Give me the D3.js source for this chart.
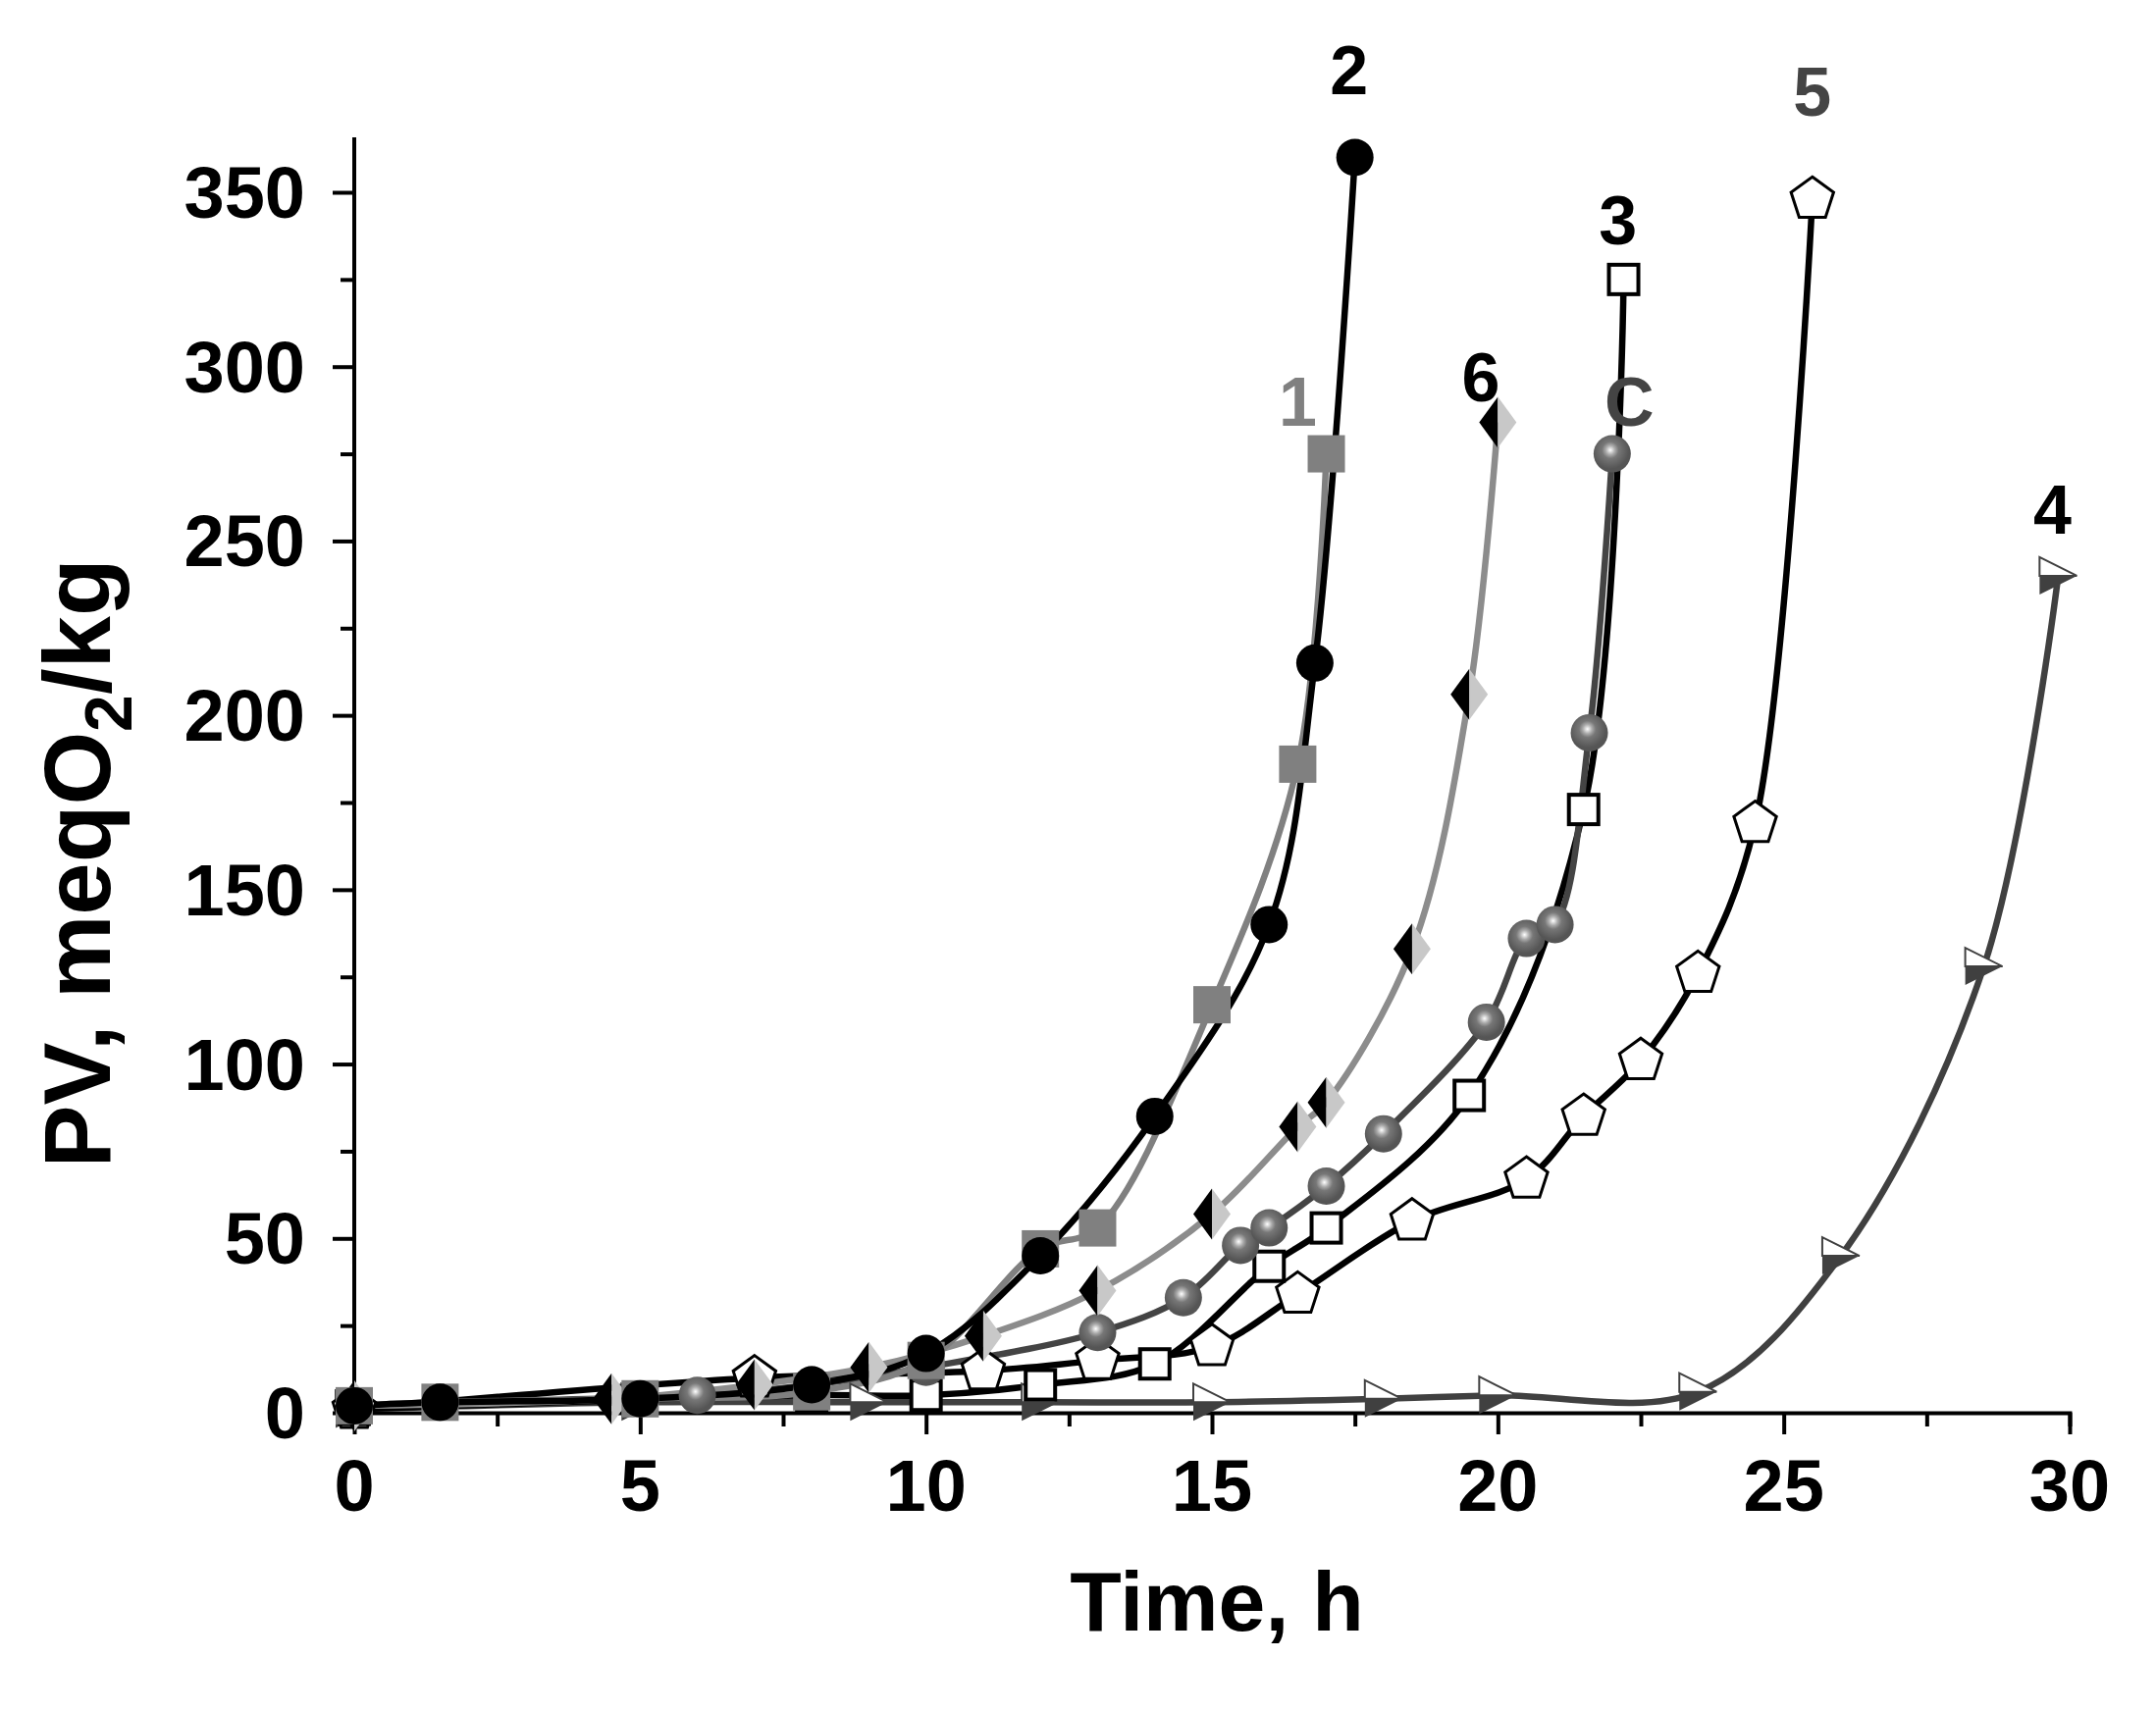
<!DOCTYPE html>
<html><head><meta charset="utf-8">
<script src="https://cdn.jsdelivr.net/npm/d3@7"></script>
<style>body{margin:0;background:#fff}text{font-family:"Liberation Sans",Arial,sans-serif;font-weight:bold}</style>
</head><body><svg id="chart" width="2197" height="1743"></svg>
<script>
// Series: [time h, PV]
const s2 = [[0,2],[1.5,3],[5,4],[8,8],[10,17],[12,45],[14,85],[16,140],[16.8,215],[17.5,360]];
const s1 = [[0,2],[1.5,3],[5,4],[8,6],[10,15],[12,47],[13,53],[15,117],[16.5,186],[17,275]];
const s6 = [[0,2],[4.5,4],[7,8],[9,13],[11,22],[13,35],[15,57],[16.5,82],[17,89],[18.5,133],[19.5,206],[20,284]];
const sC = [[0,2],[1.5,3],[6,5],[8,8],[10,13],[13,23],[14.5,33],[15.5,48],[16,53],[17,65],[18,80],[19.8,112],[20.5,136],[21,140],[21.6,195],[22,275]];
const s3 = [[0,1],[8,5],[10,5],[12,8],[14,14],[16,42],[17,53],[19.5,91],[21.5,173],[22.2,325]];
const s5 = [[0,1],[7,10],[11,12],[13,15],[15,19],[16.5,34],[18.5,55],[20.5,67],[21.5,85],[22.5,101],[23.5,126],[24.5,169],[25.5,348]];
const s4 = [[0,1],[5,3],[9,3],[12,3],[15,3],[18,4],[20,5],[23.5,6],[26,45],[28.5,128],[29.8,240]];
const xTicks = [0,5,10,15,20,25,30];
const yTicks = [0,50,100,150,200,250,300,350];

const svg = d3.select('#chart');
const x = d3.scaleLinear().domain([0,30]).range([361,2109]);
const y = d3.scaleLinear().domain([0,350]).range([1440,196]);

// axes
const gx = svg.append('g').attr('transform','translate(0,1440)');
gx.call(d3.axisBottom(x).tickValues(d3.range(0,30.1,2.5)).tickSize(14).tickFormat(''));
gx.call(g=>g.selectAll('.tick line').filter(d=>d%5===0).attr('y2',22));
gx.selectAll('line,path').attr('stroke','#000').attr('stroke-width',4);
gx.append('g').selectAll('text').data(xTicks).join('text')
  .attr('x',d=>x(d)).attr('y',100).attr('text-anchor','middle')
  .attr('font-size',74).attr('fill','#000').text(d=>d);

const gy = svg.append('g').attr('transform','translate(361,0)');
gy.call(d3.axisLeft(y).tickValues(d3.range(0,350.1,25)).tickSize(14).tickFormat(''));
gy.call(g=>g.selectAll('.tick line').filter(d=>d%50===0).attr('x2',-22));
gy.select('.domain').attr('d','M0,140V1440');
gy.selectAll('line,path').attr('stroke','#000').attr('stroke-width',4);
gy.append('g').selectAll('text').data(yTicks).join('text')
  .attr('x',-50).attr('y',d=>y(d)+26).attr('text-anchor','end')
  .attr('font-size',74).attr('fill','#000').text(d=>d);

svg.append('text').attr('x',1240).attr('y',1662).attr('text-anchor','middle')
  .attr('font-size',86).text('Time, h');
const yt = svg.append('text').attr('transform','translate(112,880) rotate(-90)')
  .attr('text-anchor','middle').attr('font-size',96);
yt.append('tspan').text('PV, meqO');
yt.append('tspan').attr('font-size',68).attr('dy',22).text('2');
yt.append('tspan').attr('dy',-22).text('/kg');

const line = d3.line().x(d=>x(d[0])).y(d=>y(d[1])).curve(d3.curveCatmullRom.alpha(0.5));
const defs = svg.append('defs');
const grad = defs.append('radialGradient').attr('id','ball').attr('cx','45%').attr('cy','40%');
grad.append('stop').attr('offset','0%').attr('stop-color','#fff');
grad.append('stop').attr('offset','25%').attr('stop-color','#aaa');
grad.append('stop').attr('offset','45%').attr('stop-color','#777');
grad.append('stop').attr('offset','100%').attr('stop-color','#555');

const series = [
  {d:s4,color:'#404040',mark:'tri'},
  {d:s5,color:'#000',mark:'pent'},
  {d:s3,color:'#000',mark:'osq'},
  {d:sC,color:'#444',mark:'ball'},
  {d:s6,color:'#8c8c8c',mark:'dia'},
  {d:s1,color:'#808080',mark:'sq'},
  {d:s2,color:'#000',mark:'circ'}
];
series.forEach(s=>{
  svg.append('path').datum(s.d).attr('d',line).attr('fill','none')
    .attr('stroke',s.color).attr('stroke-width',6.5);
});
const R = 19;
series.forEach(s=>{
  const g = svg.append('g');
  s.d.forEach(p=>{
    const cx = x(p[0]), cy = y(p[1]);
    const m = g.append('g').attr('transform',`translate(${cx},${cy})`);
    if (s.mark==='circ') m.append('circle').attr('r',R).attr('fill','#000');
    else if (s.mark==='sq') m.append('rect').attr('x',-R).attr('y',-R).attr('width',2*R).attr('height',2*R).attr('fill','#808080');
    else if (s.mark==='osq') m.append('rect').attr('x',-15).attr('y',-15).attr('width',30).attr('height',30).attr('fill','#fff').attr('stroke','#000').attr('stroke-width',4);
    else if (s.mark==='ball') m.append('circle').attr('r',R).attr('fill','url(#ball)');
    else if (s.mark==='dia') {
      m.append('path').attr('d',`M0,${-R-7}L${-R},0L0,${R+7}Z`).attr('fill','#000');
      m.append('path').attr('d',`M0,${-R-7}L${R},0L0,${R+7}Z`).attr('fill','#c8c8c8');
    } else if (s.mark==='pent') {
      const pts = d3.range(5).map(i=>{const a=-Math.PI/2+i*2*Math.PI/5;return [R*1.2*Math.cos(a),R*1.2*Math.sin(a)];});
      m.append('path').attr('d','M'+pts.join('L')+'Z').attr('fill','#fff').attr('stroke','#000').attr('stroke-width',3);
    } else if (s.mark==='tri') {
      m.append('path').attr('d',`M${-R},${-R}L${R},0L${-R},0Z`).attr('fill','#fff').attr('stroke','#404040').attr('stroke-width',2);
      m.append('path').attr('d',`M${-R},0L${R},0L${-R},${R}Z`).attr('fill','#404040');
    }
  });
});

const labels = [
  {t:'2',x:17.4,y:378,c:'#000'},{t:'1',x:16.5,y:283,c:'#808080'},{t:'6',x:19.7,y:290,c:'#000'},
  {t:'C',x:22.3,y:283,c:'#444'},{t:'3',x:22.1,y:335,c:'#000'},{t:'5',x:25.5,y:372,c:'#444'},{t:'4',x:29.7,y:252,c:'#000'}
];
svg.append('g').selectAll('text').data(labels).join('text')
  .attr('x',d=>x(d.x)).attr('y',d=>y(d.y)).attr('text-anchor','middle')
  .attr('font-size',70).attr('fill',d=>d.c).text(d=>d.t);
</script></body></html>
